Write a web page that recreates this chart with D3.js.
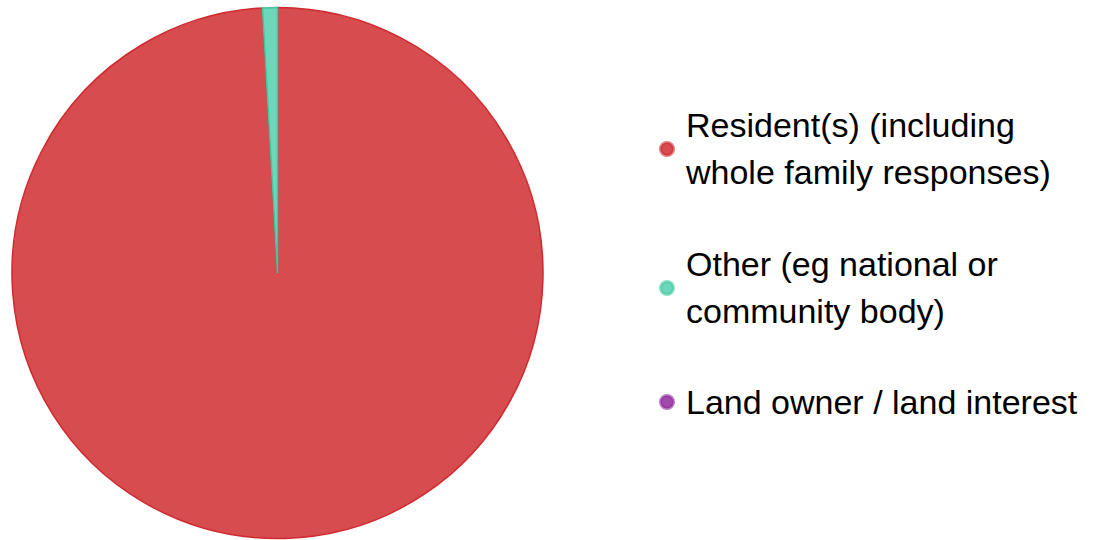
<!DOCTYPE html>
<html>
<head>
<meta charset="utf-8">
<script src="https://cdn.jsdelivr.net/npm/d3@7"></script>
<style>
  body { margin: 0; background: #fff; }
  text { font-family: "Liberation Sans", Arial, sans-serif; }
</style>
</head>
<body>
<svg width="1096" height="540"></svg>
<script>
var categories = ["Resident(s) (including whole family responses)", "Other (eg national or community body)", "Land owner / land interest"];
var labelLines = [["Resident(s) (including", "whole family responses)"], ["Other (eg national or", "community body)"], ["Land owner / land interest"]];
var values = [110, 1, 0];
var fills = ["#d64c4f", "#6cd7b9", "#a349ad"];
var strokes = ["#cf2a2e", "#3fc89f", "#8e2a99"];

var svg = d3.select("svg");

var cx = 277.5, cy = 273, r = 265.5;

var pie = d3.pie().sort(null).value(function(d) { return d; })
    .startAngle(0).endAngle(2 * Math.PI);
var arc = d3.arc().innerRadius(0).outerRadius(r);

var g = svg.append("g").attr("transform", "translate(" + cx + "," + cy + ")");

// skip empty slices so they don't leave a stroke line
g.selectAll("path")
  .data(pie(values).filter(function(d) { return d.value > 0; }))
  .enter()
  .append("path")
  .attr("d", arc)
  .attr("fill", function(d) { return fills[d.index]; })
  .attr("stroke", function(d) { return strokes[d.index]; })
  .attr("stroke-width", 1.5);

// legend
var legendY = [149, 288, 402];
var lineH = 47;
var legend = svg.append("g");

labelLines.forEach(function(lines, i) {
  var y = legendY[i];
  legend.append("circle")
    .attr("cx", 667).attr("cy", y).attr("r", 6.5)
    .attr("fill", fills[i]).attr("stroke", strokes[i]).attr("stroke-width", 3).attr("stroke-opacity", 0.6);
  var top = y - (lines.length - 1) * lineH / 2;
  lines.forEach(function(t, j) {
    legend.append("text")
      .attr("x", 686).attr("y", top + j * lineH)
      .attr("dy", "0.35em")
      .attr("font-size", 34)
      .attr("fill", "#000")
      .text(t);
  });
});
</script>
</body>
</html>
